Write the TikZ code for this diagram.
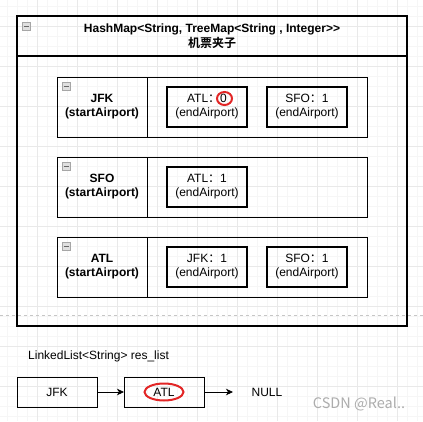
\documentclass[tikz,border=0pt]{standalone}
\usepackage{fontspec}
\setmainfont{Liberation Sans}
\newfontfamily\cjk{Noto Sans CJK SC}[BoldFont={Noto Sans CJK SC Bold}]
\usepackage{xcolor}
\usepackage{tikz}
\usetikzlibrary{positioning}
\usetikzlibrary{arrows.meta}
\tikzset{>={Stealth[length=7pt,width=6.5pt,inset=2pt]}}
\definecolor{ringred}{RGB}{226,38,38}
\tikzset{
  tx/.style={font=\fontsize{12}{14}\selectfont, inner sep=0pt},
  gridminor/.style={draw=gray!7, line width=0.6pt},
  gridmajor/.style={draw=gray!17, line width=0.6pt},
  box/.style={draw, outer sep=0pt, inner sep=0pt, line width=1pt},
  keycell/.style={box, minimum width=90, minimum height=60, align=center,
    font=\fontsize{12}{14}\selectfont\bfseries},
  valcell/.style={box, minimum width=220, minimum height=60},
  entry/.style={box, line width=2.5pt, minimum width=80, minimum height=40,
    align=center, font=\fontsize{12}{14}\selectfont},
  listbox/.style={box, minimum width=80, minimum height=30,
    font=\fontsize{12}{14}\selectfont},
  foldicon/.style={draw=gray!70, fill=gray!25, line width=0.6pt, anchor=north west,
    minimum width=8, minimum height=8, inner sep=0pt, outer sep=0pt,
    path picture={\draw[gray!80!black, line width=0.8pt]
      ([xshift=-2.5pt]path picture bounding box.center) --
      ([xshift=2.5pt]path picture bounding box.center);}},
  redring/.style={draw=ringred, line width=2pt},
  pagebreak/.style={draw=gray!45, line width=0.8pt, dash pattern=on 3pt off 3pt}
}

\begin{document}
\begin{tikzpicture}[x=1pt, y=-1pt]
  \useasboundingbox (0,0) rectangle (423,421);
  \foreach \gx in {7,17,...,417} \draw[gridminor] (\gx,0) -- (\gx,421);
  \foreach \gy in {6,16,...,416} \draw[gridminor] (0,\gy) -- (423,\gy);
  \foreach \gx in {37,77,...,397} \draw[gridmajor] (\gx,0) -- (\gx,421);
  \foreach \gy in {26,66,...,386} \draw[gridmajor] (0,\gy) -- (423,\gy);
  \draw[pagebreak] (0,315) -- (423,315);

  \node[box, line width=1.1pt, minimum width=390, minimum height=40, align=center,
    font=\fontsize{12}{15}\selectfont\bfseries] (maphead) at (212,36)
    {HashMap<String, TreeMap<String , Integer>{}>\\{\cjk 机票夹子}};
  \node[box, line width=1.1pt, minimum width=390, minimum height=270,
    below=0pt of maphead] (mapbody) {};
  \node[foldicon] (mapfold) at ([shift={(5,6)}]maphead.north west) {};

  \node[keycell] (jfkkey) at (102,107) {JFK\\(startAirport)};
  \node[valcell, right=0pt of jfkkey] (jfkval) {};
  \node[foldicon] (jfkfold) at ([shift={(5,5)}]jfkkey.north west) {};
  \node[entry, right=20pt of jfkkey] (jfkatl) {ATL{\cjk ：}0\\(endAirport)};
  \node[entry, right=20pt of jfkatl] (jfksfo) {SFO{\cjk ：}1\\(endAirport)};

  \node[keycell] (sfokey) at (102,187) {SFO\\(startAirport)};
  \node[valcell, right=0pt of sfokey] (sfoval) {};
  \node[foldicon] (sfofold) at ([shift={(5,5)}]sfokey.north west) {};
  \node[entry, right=20pt of sfokey] (sfoatl) {ATL{\cjk ：}1\\(endAirport)};

  \node[keycell] (atlkey) at (102,267) {ATL\\(startAirport)};
  \node[valcell, right=0pt of atlkey] (atlval) {};
  \node[foldicon] (atlfold) at ([shift={(5,5)}]atlkey.north west) {};
  \node[entry, right=20pt of atlkey] (atljfk) {JFK{\cjk ：}1\\(endAirport)};
  \node[entry, right=20pt of atljfk] (atlsfo) {SFO{\cjk ：}1\\(endAirport)};

  \draw[redring] ([shift={(17.5,-8.5)}]jfkatl.center) ellipse [x radius=7.5, y radius=6.5];

  \node[tx, anchor=west] (listname) at (28,356) {LinkedList<String> res\_list};
  \node[listbox] (listjfk) at (57,392) {JFK};
  \node[listbox, right=27pt of listjfk] (listatl) {ATL};
  \coordinate (listend) at ([xshift=29pt]listatl.east);
  \node[tx] (nullnode) at (267,392) {NULL};
  \draw[->, line width=0.8pt] (listjfk) -- (listatl);
  \draw[->, line width=0.8pt] (listatl) -- (listend);
  \draw[redring] (listatl.center) ellipse [x radius=19.5, y radius=8.5];

  \node[font=\cjk\fontsize{14.5}{16}\selectfont, text=gray!65] (watermark) at (359,404) {CSDN @Real..};
\end{tikzpicture}
\end{document}
